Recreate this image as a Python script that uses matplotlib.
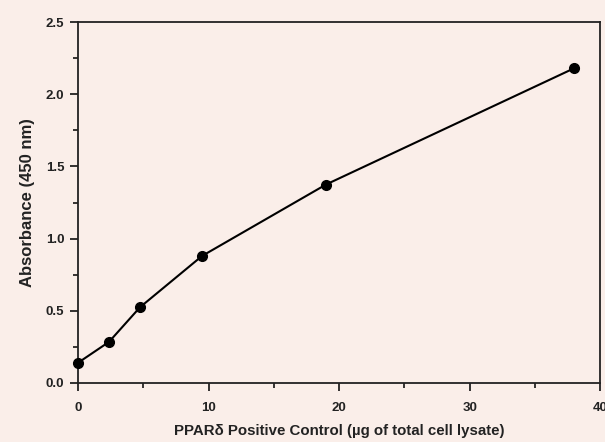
import numpy as np
import matplotlib.pyplot as plt
from matplotlib.ticker import MultipleLocator

# PPARd positive control standard curve
protein = [0, 2.375, 4.75, 9.5, 19, 38]
absorbance = [0.14, 0.285, 0.525, 0.88, 1.375, 2.18]

bg = '#faeee9'
plt.rcParams['font.family'] = ['Liberation Sans', 'DejaVu Sans']

fig = plt.figure(figsize=(6.05, 4.42), dpi=100, facecolor=bg)
ax = fig.add_axes([0.129, 0.1335, 0.863, 0.8165], facecolor=bg)

ax.plot(protein, absorbance, color='black', lw=1.5, marker='o', ms=7, clip_on=False, zorder=3)

ax.set_xlim(0, 40)
ax.set_ylim(0, 2.5)
ax.xaxis.set_major_locator(MultipleLocator(10))
ax.xaxis.set_minor_locator(MultipleLocator(5))
ax.yaxis.set_major_locator(MultipleLocator(0.5))
ax.yaxis.set_minor_locator(MultipleLocator(0.25))
ax.yaxis.set_major_formatter(plt.FormatStrFormatter('%.1f'))

ax.tick_params(which='major', length=6, width=1.3, labelsize=9.5, colors='#222222')
ax.tick_params(which='minor', length=3.5, width=1.1)
ax.tick_params(axis='x', pad=8)
ax.tick_params(axis='y', pad=4)
for lbl in ax.get_xticklabels() + ax.get_yticklabels():
    lbl.set_fontweight('bold')
for s in ax.spines.values():
    s.set_linewidth(1.3)
    s.set_color('#222222')

ax.set_xlabel('PPARδ Positive Control (µg of total cell lysate)', fontsize=10.8, fontweight='bold', labelpad=7, color='#222222')
ax.set_ylabel('Absorbance (450 nm)', fontsize=12, fontweight='bold', labelpad=8, color='#222222')

fig.savefig('out.png', dpi=100, facecolor=bg)
